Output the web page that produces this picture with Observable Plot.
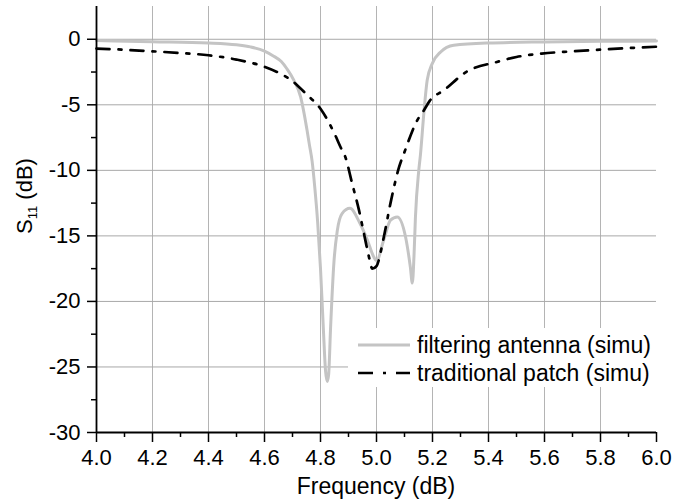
<!DOCTYPE html>
<html>
<head>
<meta charset="utf-8">
<script src="https://cdn.jsdelivr.net/npm/d3@7"></script>
<script src="https://cdn.jsdelivr.net/npm/@observablehq/plot@0.6"></script>
<style>
  body { margin: 0; background: white; }
  #chart svg { display: block; }
</style>
</head>
<body>
<div id="chart"></div>
<script>
// Filtering antenna (simu)
const freqFilter = [4.0,4.2,4.4,4.5,4.55,4.6,4.63,4.66,4.68,4.705,4.729,4.74,4.752,4.76,4.77,4.78,4.79,4.80,4.81,4.818,4.824,4.829,4.836,4.848,4.86,4.877,4.905,4.94,4.967,4.99,5.0,5.026,5.05,5.074,5.104,5.121,5.128,5.134,5.139,5.151,5.157,5.169,5.181,5.199,5.229,5.276,5.4,5.6,5.8,6.0];
const s11Filter  = [-0.1,-0.18,-0.28,-0.42,-0.58,-0.9,-1.25,-1.7,-2.25,-3.13,-4.4,-5.5,-6.95,-8.0,-9.3,-11.4,-14.0,-17.5,-22.0,-25.3,-26.1,-25.6,-22.0,-17.0,-14.6,-13.3,-12.9,-14.0,-15.3,-16.6,-16.9,-15.3,-13.8,-13.55,-15.1,-17.4,-18.6,-16.5,-13.6,-10.0,-8.8,-5.67,-3.13,-1.86,-0.97,-0.46,-0.28,-0.2,-0.16,-0.14];

// Traditional patch (simu)
const freqPatch = [4.0,4.1,4.2,4.3,4.4,4.5,4.6,4.65,4.7,4.75,4.8,4.85,4.871,4.889,4.913,4.937,4.955,4.973,4.985,5.0,5.026,5.05,5.08,5.1,5.145,5.17,5.19,5.24,5.32,5.43,5.5,5.59,5.7,5.8,5.9,6.0];
const s11Patch  = [-0.71,-0.8,-0.92,-1.05,-1.22,-1.55,-2.1,-2.55,-3.2,-4.2,-5.3,-7.2,-8.2,-9.0,-11.0,-13.0,-14.8,-16.6,-17.5,-17.3,-15.1,-12.5,-9.8,-8.6,-6.2,-5.4,-4.7,-3.9,-2.5,-1.73,-1.35,-1.09,-0.92,-0.79,-0.67,-0.57];

const xTicks = [4.0,4.2,4.4,4.6,4.8,5.0,5.2,5.4,5.6,5.8,6.0];
const xMinor = [4.1,4.3,4.5,4.7,4.9,5.1,5.3,5.5,5.7,5.9];
const yTicks = [0,-5,-10,-15,-20,-25,-30];
const yMinor = [-2.5,-7.5,-12.5,-17.5,-22.5,-27.5];

const seriesNames = ["filtering antenna (simu)", "traditional patch (simu)"];
const xLabel = "Frequency (dB)";

const filterData = freqFilter.map((f, i) => ({f, s: s11Filter[i]}));
const patchData = freqPatch.map((f, i) => ({f, s: s11Patch[i]}));

const FONT = "'Liberation Sans', Arial, sans-serif";
const GRAY = "#c4c4c4";
const DASH = "13,9,3,9";

const W = 692, H = 503;
const mL = 96, mR = 36, mT = 6, mB = 71;

const plot = Plot.plot({
  width: W, height: H,
  marginLeft: mL, marginRight: mR, marginTop: mT, marginBottom: mB,
  style: {fontFamily: FONT, fontSize: "22px", background: "white", color: "black"},
  x: {domain: [4, 6]},
  y: {domain: [-30, 2.5]},
  marks: [
    Plot.gridX(xTicks.slice(1, -1), {stroke: "#b4b4b4", strokeOpacity: 1, strokeWidth: 1}),
    Plot.gridY(yTicks.slice(0, -1), {stroke: "#a8a8a8", strokeOpacity: 1, strokeWidth: 1}),
    Plot.line(filterData, {x: "f", y: "s", stroke: GRAY, strokeWidth: 3, curve: "monotone-x"}),
    Plot.line(patchData, {x: "f", y: "s", stroke: "black", strokeWidth: 2.7, strokeDasharray: DASH, curve: "monotone-x"}),
    Plot.axisX(xTicks, {tickSize: 10, tickPadding: 7, strokeWidth: 1.5, tickFormat: d => d.toFixed(1), label: null, fontSize: 22}),
    Plot.axisX(xMinor, {tickSize: 5, strokeWidth: 1.5, tickFormat: () => "", label: null}),
    Plot.axisY(yTicks, {tickSize: 9, tickPadding: 7, strokeWidth: 1.5, tickFormat: d => String(d), label: null, fontSize: 22}),
    Plot.axisY(yMinor, {tickSize: 5, strokeWidth: 1.5, tickFormat: () => "", label: null}),
    Plot.ruleX([4], {stroke: "black", strokeWidth: 1.8}),
    Plot.ruleY([-30], {stroke: "black", strokeWidth: 1.8})
  ]
});

const svg = d3.select(plot);

// Axis labels
svg.append("text")
  .attr("x", (mL + (W - mR)) / 2).attr("y", 494)
  .attr("text-anchor", "middle")
  .style("font-family", FONT).style("font-size", "23px").attr("fill", "black")
  .text(xLabel);

const yl = svg.append("text")
  .attr("transform", "translate(32,196) rotate(-90)")
  .attr("text-anchor", "middle")
  .style("font-family", FONT).style("font-size", "22px").attr("fill", "black");
yl.append("tspan").text("S");
yl.append("tspan").attr("dy", 5).style("font-size", "13px").text("11");
yl.append("tspan").attr("dy", -5).text(" (dB)");

// Legend
const lg = svg.append("g");
lg.append("rect").attr("x", 348).attr("y", 328).attr("width", W - mR - 348).attr("height", 59).attr("fill", "white");
const rows = [{name: seriesNames[0], stroke: GRAY, w: 3, dash: null, y: 345},
              {name: seriesNames[1], stroke: "black", w: 2.7, dash: "15,10,3,10", y: 373}];
rows.forEach(r => {
  lg.append("line").attr("x1", 358).attr("x2", 410).attr("y1", r.y).attr("y2", r.y)
    .attr("stroke", r.stroke).attr("stroke-width", r.w).attr("stroke-dasharray", r.dash);
  lg.append("text").attr("x", 417).attr("y", r.y + 7.5)
    .attr("text-anchor", "start")
    .style("font-family", FONT).style("font-size", "23px").attr("fill", "black")
    .text(r.name);
});

document.getElementById("chart").appendChild(plot);
</script>
</body>
</html>
